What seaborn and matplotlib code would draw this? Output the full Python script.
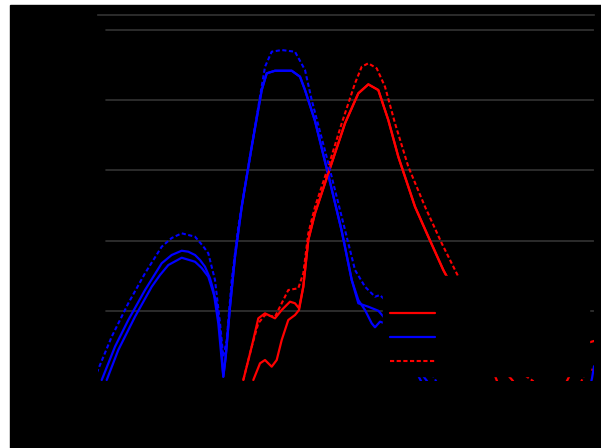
import matplotlib
matplotlib.use("Agg")
import matplotlib.pyplot as plt
from matplotlib.patches import Rectangle
import seaborn as sns

# ---- data ----
wl_ticks = [300, 350, 400, 450, 500, 550]

exp_x = [282.9, 354.6, 362.9, 374.0, 394.9, 411.5, 441.3, 452.3, 502.0, 547.8]
exp_y = [4.91, 4.91, 4.74, 4.69, 4.67, 4.72, 4.81, 4.93, 4.93, 4.96]

blue_a_x = [278.31, 285.65, 292.99, 302.21, 311.42, 316.94, 322.46, 326.10, 329.80, 332.56,
            335.32, 338.08, 339.90, 342.66, 344.54, 345.42, 346.75, 349.12, 351.88, 355.58,
            361.10, 366.62, 369.37, 373.95, 383.17, 387.75, 390.51, 396.03, 403.37, 410.77,
            416.29, 419.93, 425.45, 430.97, 440.18, 448.46, 454.53, 459.50, 550.0]
blue_a_y = [0.014, 0.489, 0.869, 1.296, 1.677, 1.795, 1.856, 1.842, 1.795, 1.724,
            1.628, 1.463, 1.296, 0.822, 0.299, 0.061, 0.346, 1.058, 1.771, 2.483,
            3.338, 4.145, 4.383, 4.420, 4.420, 4.335, 4.145, 3.704, 2.934, 2.137,
            1.439, 1.107, 1.058, 1.001, 0.727, 0.299, 0.0, -0.27, -0.60]

blue_b_x = [281.07, 287.47, 296.69, 305.91, 310.50, 315.07, 322.46, 329.80, 333.50, 337.14,
            341.78, 344.15, 345.42, 346.75, 349.12, 351.88, 355.58, 361.10, 366.62, 369.37,
            373.95, 383.17, 387.75, 390.51, 396.03, 403.37, 410.77, 416.29, 419.93, 423.63,
            427.32, 429.14, 431.90, 437.42, 445.70, 457.84, 462.26, 536.77, 546.70, 548.91,
            550.0]
blue_b_y = [0.014, 0.442, 0.916, 1.343, 1.510, 1.652, 1.756, 1.699, 1.610, 1.486,
            1.107, 0.584, 0.061, 0.346, 1.058, 1.771, 2.483, 3.338, 4.145, 4.383,
            4.420, 4.420, 4.335, 4.145, 3.704, 2.934, 2.137, 1.439, 1.154, 1.011,
            0.822, 0.765, 0.845, 0.80, 0.41, 0.0, -0.27, -0.55, -0.20, 0.04,
            0.21]

blue_dot_x = [275.55, 283.83, 292.99, 302.21, 311.42, 316.94, 322.46, 329.80, 334.20, 337.14,
              340.84, 343.60, 345.42, 347.30, 350.06, 353.70, 359.22, 364.74, 368.44, 372.13,
              377.65, 384.99, 390.51, 394.21, 403.37, 412.59, 418.11, 423.63, 429.14, 431.90,
              440.18, 451.22, 462.81, 467.78, 550.0]
blue_dot_y = [0.114, 0.631, 1.107, 1.534, 1.913, 2.037, 2.104, 2.056, 1.923, 1.819,
              1.439, 0.826, 0.346, 0.584, 1.439, 2.198, 3.053, 3.907, 4.477, 4.691,
              4.715, 4.691, 4.430, 4.003, 3.101, 2.151, 1.581, 1.343, 1.201, 1.225,
              1.011, 0.513, 0.0, -0.27, -0.60]

red_a_x = [356.46, 361.10, 364.74, 368.44, 373.95, 377.65, 382.23, 384.99, 387.20, 389.57,
           392.33, 396.03, 403.37, 412.59, 419.93, 425.45, 430.97, 436.48, 442.00, 451.22,
           458.56, 466.84, 478.81, 489.85, 496.47, 500.89, 522.97, 533.95, 542.23, 546.15,
           550.0]
red_a_y = [0.014, 0.489, 0.893, 0.964, 0.893, 1.011, 1.130, 1.107, 1.036, 1.343,
           2.009, 2.389, 2.959, 3.671, 4.098, 4.226, 4.145, 3.718, 3.195, 2.483,
           2.056, 1.581, 1.011, 0.442, 0.0, -0.27, -0.556, -0.057, 0.370, 0.541,
           0.570]

red_b_x = [361.98, 365.68, 368.44, 372.13, 374.89, 377.65, 381.29, 384.99, 387.20, 389.57,
           392.33, 396.03, 403.37, 412.59, 419.93, 425.45, 430.97, 436.48, 442.00, 451.22,
           458.56, 466.84, 481.58, 495.37, 505.31, 509.17, 550.0]
red_b_y = [0.014, 0.252, 0.299, 0.204, 0.299, 0.584, 0.869, 0.940, 1.011, 1.343,
           2.009, 2.389, 2.959, 3.671, 4.098, 4.226, 4.145, 3.718, 3.195, 2.483,
           2.056, 1.581, 0.869, 0.299, 0.0, -0.27, -0.60]

red_dot_x = [356.46, 361.10, 364.74, 368.44, 373.95, 377.65, 381.29, 386.81, 389.57, 392.33,
             396.03, 403.37, 410.77, 418.11, 421.80, 425.45, 430.08, 434.66, 440.18, 447.52,
             456.74, 465.96, 473.30, 487.09, 503.65, 516.34, 522.97, 539.52, 546.15, 550.0]
red_dot_y = [0.014, 0.489, 0.822, 0.940, 0.916, 1.107, 1.296, 1.321, 1.534, 2.104,
             2.483, 3.053, 3.671, 4.241, 4.477, 4.526, 4.454, 4.192, 3.671, 3.053,
             2.483, 1.962, 1.581, 0.869, 0.228, 0.0, -0.242, -0.20, 0.171, 0.157]

# ---- figure ----
sns.set_style("white")
plt.rcParams["font.family"] = ["DejaVu Sans"]

fig = plt.figure(figsize=(6.01, 4.48), dpi=100)
fig.patch.set_facecolor("white")
fig.add_artist(Rectangle((10 / 601, 0), 591 / 601, 443 / 448,
                         transform=fig.transFigure, color="black", zorder=-10))

ax = fig.add_axes([98 / 601, 1 - 381 / 448, 496 / 601, 366 / 448])
ax.set_facecolor("black")

for g in [1, 2, 3, 4, 5]:
    ax.axhline(g, xmin=8 / 496, color="#333333", lw=1.2, zorder=0)

sns.lineplot(x=exp_x, y=exp_y, ax=ax, color="black", lw=1.5,
             sort=False, estimator=None, label="Experimental", zorder=1)
sns.lineplot(x=red_a_x, y=red_a_y, ax=ax, color="#ff0000", lw=1.6,
             sort=False, estimator=None, label="Calc. (R)", zorder=3)
sns.lineplot(x=blue_a_x, y=blue_a_y, ax=ax, color="#0000ff", lw=1.6,
             sort=False, estimator=None, label="Calc. (S)", zorder=3)
sns.lineplot(x=red_dot_x, y=red_dot_y, ax=ax, color="#ff0000", lw=1.5,
             linestyle=(0, (2, 1.2)), sort=False, estimator=None,
             label="Calc. (R), rescaled", zorder=3)
sns.lineplot(x=blue_b_x, y=blue_b_y, ax=ax, color="#0000ff", lw=1.6,
             sort=False, estimator=None, zorder=3)
sns.lineplot(x=red_b_x, y=red_b_y, ax=ax, color="#ff0000", lw=1.6,
             sort=False, estimator=None, zorder=3)
sns.lineplot(x=blue_dot_x, y=blue_dot_y, ax=ax, color="#0000ff", lw=1.5,
             linestyle=(0, (2, 1.2)), sort=False, estimator=None, zorder=3)

ax.set_xlim(276.27, 550)
ax.set_ylim(0, 5.214)
ax.set_xticks(wl_ticks)
ax.set_yticks([0, 1, 2, 3, 4, 5])
ax.tick_params(colors="black", labelsize=10)
ax.get_xticklabels()[-1].set_horizontalalignment("right")
ax.set_xlabel("Wavelength (nm)", color="black", fontsize=11)
ax.set_ylabel("ε (10$^4$ M$^{-1}$ cm$^{-1}$)", color="black", fontsize=11)

for side in ["left", "right", "bottom"]:
    ax.spines[side].set_color("black")
ax.spines["top"].set_color("#333333")
ax.spines["top"].set_linewidth(1.2)

leg = ax.legend(loc="lower right", fontsize=11, handlelength=3,
                handletextpad=0.5, borderaxespad=0.35, labelspacing=0.6,
                facecolor="black", edgecolor="black", framealpha=1,
                labelcolor="black", fancybox=False)
leg.set_zorder(10)

fig.savefig("out.png", dpi=100, facecolor=fig.get_facecolor())
